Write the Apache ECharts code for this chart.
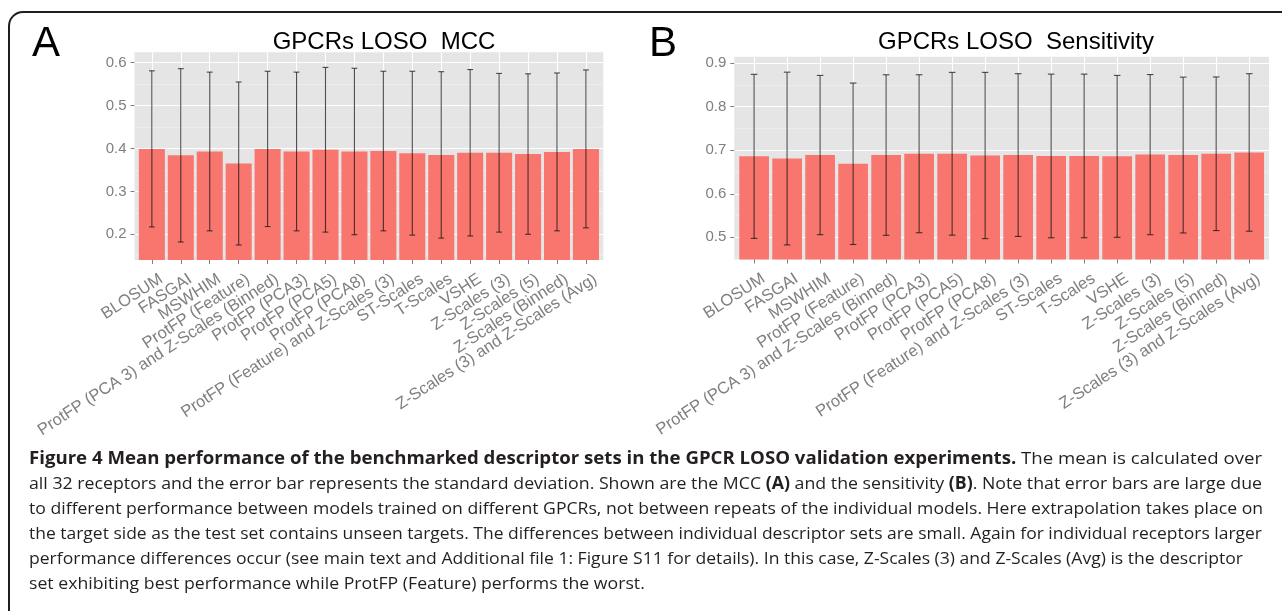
<!DOCTYPE html>
<html><head><meta charset="utf-8">
<script src="https://cdn.jsdelivr.net/npm/echarts@6/dist/echarts.min.js"></script>
<style>html,body{margin:0;padding:0;background:#fff}#c{width:1282px;height:611px}</style>
</head><body><div id="c"></div>
<script>
const categories = ['BLOSUM','FASGAI','MSWHIM','ProtFP (Feature)','ProtFP (PCA 3) and Z-Scales (Binned)','ProtFP (PCA3)','ProtFP (PCA5)','ProtFP (PCA8)','ProtFP (Feature) and Z-Scales (3)','ST-Scales','T-Scales','VSHE','Z-Scales (3)','Z-Scales (5)','Z-Scales (Binned)','Z-Scales (3) and Z-Scales (Avg)'];
const mccMean = [0.399,0.384,0.393,0.365,0.399,0.393,0.397,0.393,0.394,0.389,0.385,0.390,0.390,0.387,0.392,0.399];
const mccSd   = [0.182,0.202,0.185,0.190,0.181,0.185,0.192,0.194,0.186,0.191,0.194,0.194,0.185,0.187,0.184,0.184];
const sensMean = [0.686,0.681,0.689,0.669,0.689,0.692,0.692,0.688,0.689,0.687,0.687,0.686,0.690,0.689,0.692,0.695];
const sensSd   = [0.1885,0.1985,0.183,0.1855,0.1845,0.1815,0.187,0.191,0.187,0.188,0.188,0.186,0.184,0.179,0.1765,0.181];
const mccTicks = [0.2,0.3,0.4,0.5,0.6];
const mccMinor = [0.15,0.25,0.35,0.45,0.55];
const sensTicks = [0.5,0.6,0.7,0.8,0.9];
const sensMinor = [0.45,0.55,0.65,0.75,0.85];
const titles = ['GPCRs LOSO  MCC','GPCRs LOSO  Sensitivity'];
const panelLetters = ['A','B'];
const captionLines = [
  [['b','Figure 4 Mean performance of the benchmarked descriptor sets in the GPCR LOSO validation experiments.'],['r',' The mean is calculated over']],
  [['r','all 32 receptors and the error bar represents the standard deviation. Shown are the MCC '],['b','(A)'],['r',' and the sensitivity '],['b','(B)'],['r','. Note that error bars are large due']],
  [['r','to different performance between models trained on different GPCRs, not between repeats of the individual models. Here extrapolation takes place on']],
  [['r','the target side as the test set contains unseen targets. The differences between individual descriptor sets are small. Again for individual receptors larger']],
  [['r','performance differences occur (see main text and Additional file 1: Figure S11 for details). In this case, Z-Scales (3) and Z-Scales (Avg) is the descriptor']],
  [['r','set exhibiting best performance while ProtFP (Feature) performs the worst.']]
];

const positions = categories.map((c, i) => i + 1);
const oddPos = positions.filter(p => p % 2 === 1);
const evenPos = positions.filter(p => p % 2 === 0);
const grey = '#7f7f7f';
const FONT = "'Liberation Sans', Arial, sans-serif";
const CAP_FONT = "'Open Sans', sans-serif";
const CAP_SIZE = 17;
const CAP_LEFT = 29, CAP_TOP = 451, CAP_LH = 25;
const capRight = [1262, 1262, 1263, 1262, 1243, null];

function labelStyle(vals) {
  return {
    customValues: vals, showMinLabel: true, showMaxLabel: true, hideOverlap: false,
    formatter: v => categories[Math.round(v) - 1] || '',
    rotate: 33, fontSize: 16.5, color: grey, fontFamily: FONT,
    margin: 3, align: 'right', verticalAlign: 'top', padding: [9, 0, 0, 0]
  };
}
// main x axis (ticks, grid lines, odd labels) + a twin axis carrying the even labels
function xAxesFor(gi) {
  return [{
    type: 'value', gridIndex: gi, min: 0.4, max: 16.6, position: 'bottom',
    axisLine: { show: false },
    axisTick: { show: true, customValues: positions, length: 4, lineStyle: { color: grey, width: 1 } },
    splitLine: { show: true, lineStyle: { color: '#ffffff', width: 1.1 } },
    axisLabel: labelStyle(oddPos)
  }, {
    type: 'value', gridIndex: gi, min: 0.4, max: 16.6, position: 'bottom', offset: 0,
    axisLine: { show: false },
    axisTick: { show: false, customValues: evenPos },
    splitLine: { show: false },
    axisLabel: labelStyle(evenPos)
  }];
}
function yMajor(gi, min, max, ticks) {
  return {
    type: 'value', gridIndex: gi, min: min, max: max, position: 'left',
    axisLine: { show: false },
    axisTick: { show: true, customValues: ticks, length: 4, lineStyle: { color: grey } },
    splitLine: { show: true, lineStyle: { color: '#ffffff', width: 1.1 } },
    axisLabel: { customValues: ticks, showMinLabel: true, showMaxLabel: true, formatter: v => v.toFixed(1), fontSize: 15, color: grey, fontFamily: FONT, margin: 8 }
  };
}
function yMinor(gi, min, max, ticks) {
  return {
    type: 'value', gridIndex: gi, min: min, max: max, position: 'left',
    axisLine: { show: false },
    axisTick: { show: false, customValues: ticks },
    axisLabel: { show: false },
    splitLine: { show: true, lineStyle: { color: '#f2f2f2', width: 0.6 } }
  };
}
function errRender(params, api) {
  const x = api.value(0), lo = api.value(1), hi = api.value(2);
  const pLo = api.coord([x, lo]), pHi = api.coord([x, hi]);
  const hw = api.size([0.2, 0])[0] / 2;
  const st = { stroke: 'rgba(20,20,20,0.75)', lineWidth: 1.1 };
  return { type: 'group', children: [
    { type: 'line', shape: { x1: pLo[0], y1: pLo[1], x2: pHi[0], y2: pHi[1] }, style: st },
    { type: 'line', shape: { x1: pLo[0] - hw, y1: pLo[1], x2: pLo[0] + hw, y2: pLo[1] }, style: st },
    { type: 'line', shape: { x1: pHi[0] - hw, y1: pHi[1], x2: pHi[0] + hw, y2: pHi[1] }, style: st }
  ]};
}
function barSeries(gi, means) {
  return {
    type: 'bar', xAxisIndex: gi * 2, yAxisIndex: gi * 2, barWidth: '90%',
    itemStyle: { color: '#F8766D' },
    data: means.map((m, i) => [positions[i], m]), silent: true
  };
}
function errSeries(gi, means, sds) {
  return {
    type: 'custom', xAxisIndex: gi * 2, yAxisIndex: gi * 2, renderItem: errRender, z: 5,
    encode: { x: 0, y: [1, 2] },
    data: means.map((m, i) => [positions[i], m - sds[i], m + sds[i]]), silent: true
  };
}

// caption: one text element per line, stretched to the justified width of the original
const rich = {
  b: { fontFamily: CAP_FONT, fontWeight: 'bold', fontSize: CAP_SIZE, fill: '#231f20', color: '#231f20' },
  r: { fontFamily: CAP_FONT, fontWeight: 'normal', fontSize: CAP_SIZE, fill: '#231f20', color: '#231f20' }
};
const mctx = document.createElement('canvas').getContext('2d');
function lineWidth(line) {
  return line.reduce((w, [k, t]) => {
    mctx.font = (k === 'b' ? 'bold ' : '') + CAP_SIZE + 'px ' + CAP_FONT;
    return w + mctx.measureText(t).width;
  }, 0);
}
const captionGraphics = captionLines.map((line, i) => {
  const natural = lineWidth(line);
  const sx = capRight[i] ? (capRight[i] - CAP_LEFT) / natural : 1.04;
  return {
    type: 'text', x: CAP_LEFT, y: CAP_TOP + i * CAP_LH, scaleX: sx,
    style: {
      text: line.map(([k, t]) => '{' + k + '|' + t + '}').join(''),
      rich: rich, align: 'left', verticalAlign: 'top', textAlign: 'left', textVerticalAlign: 'top'
    }
  };
});

const chart = echarts.init(document.getElementById('c'), null, { renderer: 'canvas' });
chart.setOption({
  animation: false,
  backgroundColor: '#ffffff',
  grid: [
    { left: 134.5, top: 52.3, width: 468.8, height: 207.7, show: true, backgroundColor: '#E5E5E5', borderWidth: 0 },
    { left: 734.3, top: 56.7, width: 534.7, height: 202.8, show: true, backgroundColor: '#E5E5E5', borderWidth: 0 }
  ],
  xAxis: xAxesFor(0).concat(xAxesFor(1)),
  yAxis: [
    yMajor(0, 0.140, 0.6242, mccTicks), yMinor(0, 0.140, 0.6242, mccMinor),
    yMajor(1, 0.449, 0.915, sensTicks), yMinor(1, 0.449, 0.915, sensMinor)
  ],
  series: [
    barSeries(0, mccMean), errSeries(0, mccMean, mccSd),
    barSeries(1, sensMean), errSeries(1, sensMean, sensSd)
  ],
  graphic: [
    { type: 'rect', shape: { x: 9, y: 12, width: 1320, height: 660, r: 14 }, style: { fill: 'none', stroke: '#1e1e1e', lineWidth: 2 }, silent: true },
    { type: 'text', x: 32, y: 44.5, style: { text: panelLetters[0], font: "42px 'Liberation Sans', Arial", fill: '#000', align: 'left', verticalAlign: 'middle', textAlign: 'left', textVerticalAlign: 'middle' } },
    { type: 'text', x: 649, y: 44.5, style: { text: panelLetters[1], font: "42px 'Liberation Sans', Arial", fill: '#000', align: 'left', verticalAlign: 'middle', textAlign: 'left', textVerticalAlign: 'middle' } },
    { type: 'text', x: 384, y: 42, style: { text: titles[0], font: "24px 'Liberation Sans', Arial", fill: '#000', align: 'center', verticalAlign: 'middle', textAlign: 'center', textVerticalAlign: 'middle' } },
    { type: 'text', x: 1016, y: 42.5, style: { text: titles[1], font: "24px 'Liberation Sans', Arial", fill: '#000', align: 'center', verticalAlign: 'middle', textAlign: 'center', textVerticalAlign: 'middle' } }
  ].concat(captionGraphics)
});
</script></body></html>
